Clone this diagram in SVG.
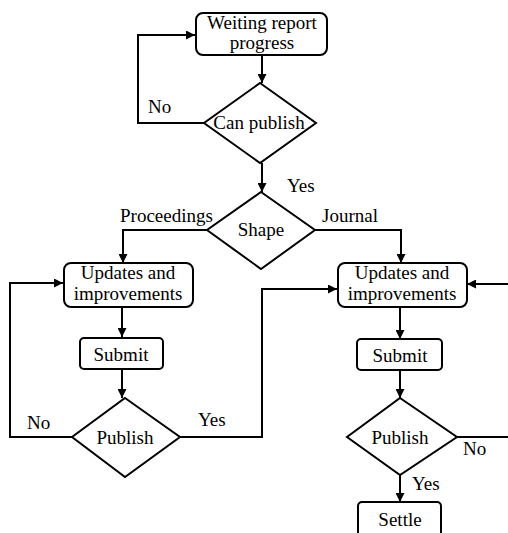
<svg xmlns="http://www.w3.org/2000/svg" width="508" height="533" viewBox="0 0 508 533" font-family="'Liberation Serif', 'Times New Roman', Times, serif" font-size="19">
<defs>
<marker id="ah" viewBox="0 0 10 10" refX="10" refY="5" markerWidth="9" markerHeight="9" markerUnits="userSpaceOnUse" orient="auto">
<path d="M0,0 L10,5 L0,10 z" fill="#000"/>
</marker>
<style>
.box{fill:#fff;stroke:#000;stroke-width:2}
.dia{fill:#fff;stroke:#000;stroke-width:2}
.ln{fill:none;stroke:#000;stroke-width:2}
.ar{fill:none;stroke:#000;stroke-width:2;marker-end:url(#ah)}
text{font-family:'Liberation Serif','Times New Roman',Times,serif;font-size:19px;fill:#000}
.c{text-anchor:middle}
</style>
</defs>
<rect width="508" height="533" fill="#fff"/>
<g id="connectors">
<path class="ar" d="M262,56 V83"/>
<path class="ar" d="M204,123 H138 V35 H195"/>
<path class="ar" d="M262,163 V192"/>
<path class="ar" d="M207,230 H123 V263"/>
<path class="ar" d="M315,230 H401 V263"/>
<path class="ar" d="M122,307 V337"/>
<path class="ar" d="M122,369 V398"/>
<path class="ar" d="M72,437 H10 V283 H63"/>
<path class="ar" d="M180,437 H262 V289 H337"/>
<path class="ar" d="M508,284 H467"/>
<path class="ar" d="M400,307 V339"/>
<path class="ar" d="M400,370 V398"/>
<path class="ln" d="M457,437 H508"/>
<path class="ar" d="M400,475 V502"/>
<text x="148" y="113">No</text>
<text x="287" y="192">Yes</text>
<text x="120" y="222">Proceedings</text>
<text x="322" y="222">Journal</text>
<text x="27" y="429">No</text>
<text x="198" y="426">Yes</text>
<text x="463" y="455">No</text>
<text x="412" y="490">Yes</text>
</g>
<g id="n_wait">
<rect class="box" x="196" y="13" width="131" height="42" rx="7"/>
<text class="c" x="262" y="29">Weiting report</text>
<text class="c" x="262" y="49">progress</text>
</g>
<g id="n_canpublish">
<polygon class="dia" points="260,83 316,123 260,163 204,123"/>
<text class="c" x="259" y="129">Can publish</text>
</g>
<g id="n_shape">
<polygon class="dia" points="261,192 315,230 261,269 207,230"/>
<text class="c" x="261" y="236">Shape</text>
</g>
<g id="n_upd_left">
<rect class="box" x="64" y="263" width="129" height="44" rx="7"/>
<text class="c" x="128" y="279">Updates and</text>
<text class="c" x="128" y="300">improvements</text>
</g>
<g id="n_submit_left">
<rect class="box" x="80" y="338" width="83" height="31" rx="4"/>
<text class="c" x="121" y="361">Submit</text>
</g>
<g id="n_publish_left">
<polygon class="dia" points="125,398 180,437 125,477 72,437"/>
<text class="c" x="125" y="444">Publish</text>
</g>
<g id="n_upd_right">
<rect class="box" x="338" y="263" width="129" height="44" rx="7"/>
<text class="c" x="402" y="279">Updates and</text>
<text class="c" x="402" y="300">improvements</text>
</g>
<g id="n_submit_right">
<rect class="box" x="357" y="339" width="85" height="31" rx="4"/>
<text class="c" x="400" y="362">Submit</text>
</g>
<g id="n_publish_right">
<polygon class="dia" points="400,398 457,437 400,475 347,437"/>
<text class="c" x="400" y="444">Publish</text>
</g>
<g id="n_settle">
<rect class="box" x="358" y="502" width="83" height="40" rx="4"/>
<text class="c" x="400" y="526">Settle</text>
</g>
</svg>
